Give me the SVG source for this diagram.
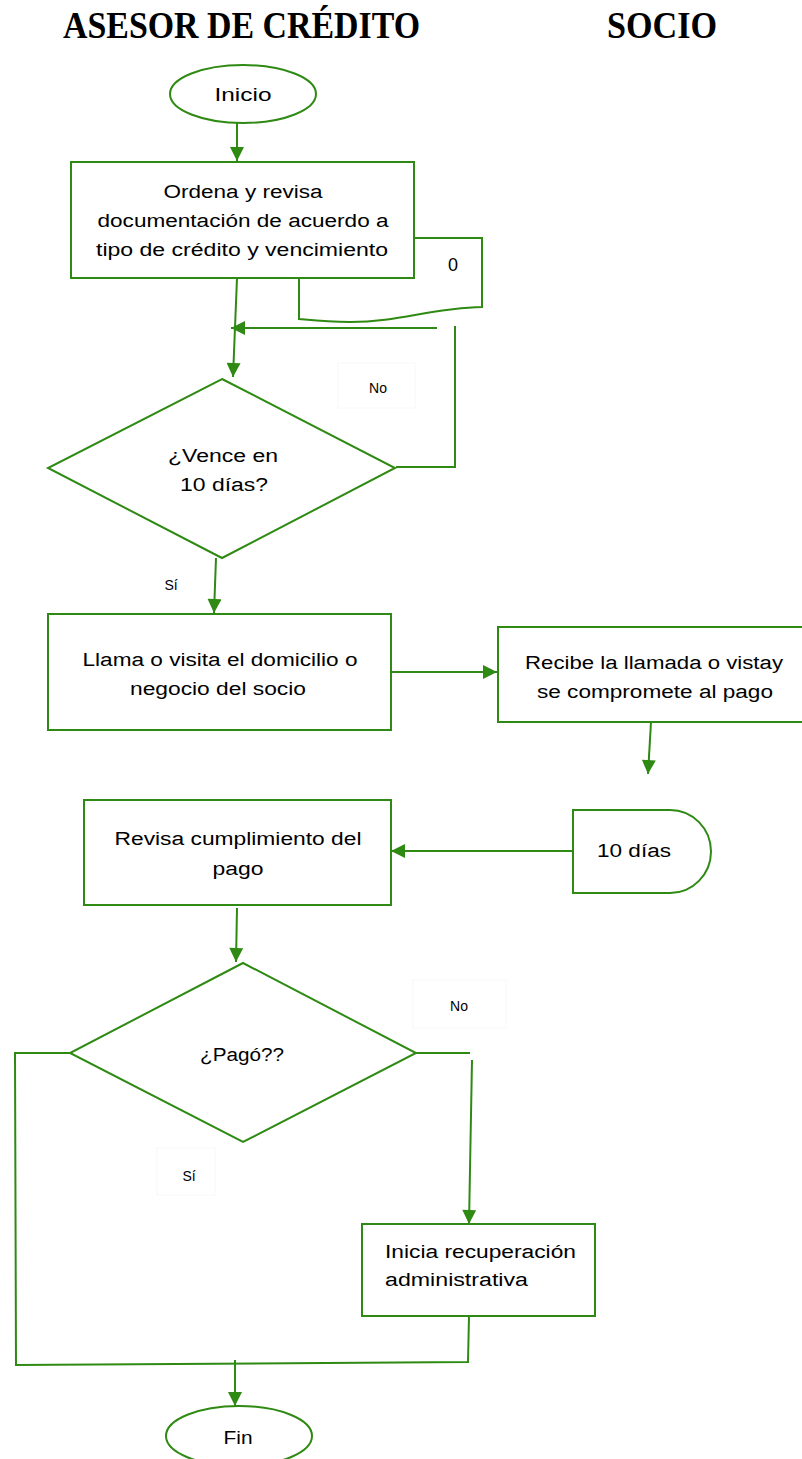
<svg xmlns="http://www.w3.org/2000/svg" width="802" height="1459" viewBox="0 0 802 1459">
<defs>
<marker id="ah" viewBox="0 0 10 10" refX="10" refY="5" markerWidth="15" markerHeight="14" markerUnits="userSpaceOnUse" orient="auto">
<path d="M0,0 L10,5 L0,10 Z" fill="#2e8a12"/>
</marker>
<style>
.s{fill:#fff;stroke:#2e8a12;stroke-width:2}
.c{fill:none;stroke:#2e8a12;stroke-width:2}
.t{font-family:"Liberation Sans","Open Sans",sans-serif;font-size:18px;fill:#000;text-anchor:middle}
.l{font-family:"Liberation Sans","Open Sans",sans-serif;font-size:14px;fill:#000;text-anchor:middle}
.h{font-family:"Liberation Serif","Times New Roman",serif;font-weight:bold;font-size:38px;fill:#000}
.lb{fill:#fff;stroke:#f8f8f8;stroke-width:1}
</style>
</defs>
<rect width="802" height="1459" fill="#fff"/>
<g id="headers">
<text class="h" x="63" y="38" textLength="357" lengthAdjust="spacingAndGlyphs">ASESOR DE CRÉDITO</text>
<text class="h" x="607" y="38" textLength="110" lengthAdjust="spacingAndGlyphs">SOCIO</text>
</g>
<g id="connectors">
<path class="c" d="M237,123 L237,161" marker-end="url(#ah)"/>
<path class="c" d="M237,278 L233,377" marker-end="url(#ah)"/>
<path class="c" d="M437,328 L231,328" marker-end="url(#ah)"/>
<path class="c" d="M396,467 L455,467 L455,326"/>
<path class="c" d="M216,558 L214,613" marker-end="url(#ah)"/>
<path class="c" d="M391,672 L497,672" marker-end="url(#ah)"/>
<path class="c" d="M651,722 L648,774" marker-end="url(#ah)"/>
<path class="c" d="M573,851 L391,851" marker-end="url(#ah)"/>
<path class="c" d="M237,908 L236,962" marker-end="url(#ah)"/>
<path class="c" d="M70,1053 L15,1053 L16,1365 L468,1362 L469,1316"/>
<path class="c" d="M416,1053 L470,1053"/>
<path class="c" d="M472,1060 L469,1224" marker-end="url(#ah)"/>
<path class="c" d="M235,1360 L235,1406" marker-end="url(#ah)"/>
</g>
<g id="labels">
<rect class="lb" x="338" y="363" width="77" height="45"/>
<text class="l" x="378" y="393">No</text>
<text class="l" x="171" y="590">Sí</text>
<rect class="lb" x="413" y="980" width="93" height="48"/>
<text class="l" x="459" y="1011">No</text>
<rect class="lb" x="157" y="1148" width="58" height="47"/>
<text class="l" x="189" y="1181">Sí</text>
</g>
<g id="documento">
<path class="s" d="M414,238 L482,238 L482,307 C430,308 400,322 350,322 C325,322 310,320 299,319 L299,278"/>
<text class="t" x="453" y="271">0</text>
</g>
<g id="inicio">
<ellipse class="s" cx="243" cy="94" rx="73" ry="29"/>
<text class="t" x="243" y="101" textLength="57" lengthAdjust="spacingAndGlyphs">Inicio</text>
</g>
<g id="ordena">
<rect class="s" x="71" y="162" width="343" height="116"/>
<text class="t" x="243" y="198" textLength="159" lengthAdjust="spacingAndGlyphs">Ordena y revisa</text>
<text class="t" x="243" y="227" textLength="291" lengthAdjust="spacingAndGlyphs">documentación de acuerdo a</text>
<text class="t" x="242" y="256" textLength="292" lengthAdjust="spacingAndGlyphs">tipo de crédito y vencimiento</text>
</g>
<g id="vence">
<polygon class="s" points="222,379 395,468 222,558 48,468"/>
<text class="t" x="223" y="462" textLength="110" lengthAdjust="spacingAndGlyphs">¿Vence en</text>
<text class="t" x="224" y="491" textLength="88" lengthAdjust="spacingAndGlyphs">10 días?</text>
</g>
<g id="llama">
<rect class="s" x="48" y="614" width="343" height="116"/>
<text class="t" x="220" y="666" textLength="275" lengthAdjust="spacingAndGlyphs">Llama o visita el domicilio o</text>
<text class="t" x="218" y="695" textLength="176" lengthAdjust="spacingAndGlyphs">negocio del socio</text>
</g>
<g id="recibe">
<rect class="s" x="498" y="627" width="310" height="95"/>
<text class="t" x="654" y="669" textLength="258" lengthAdjust="spacingAndGlyphs">Recibe la llamada o vistay</text>
<text class="t" x="655" y="698" textLength="236" lengthAdjust="spacingAndGlyphs">se compromete al pago</text>
</g>
<g id="espera">
<path class="s" d="M573,810 L670,810 A41,41.5 0 0 1 670,893 L573,893 Z"/>
<text class="t" x="634" y="857" textLength="74" lengthAdjust="spacingAndGlyphs">10 días</text>
</g>
<g id="revisa">
<rect class="s" x="84" y="800" width="307" height="105"/>
<text class="t" x="238" y="845" textLength="247" lengthAdjust="spacingAndGlyphs">Revisa cumplimiento del</text>
<text class="t" x="238" y="875" textLength="51" lengthAdjust="spacingAndGlyphs">pago</text>
</g>
<g id="pago">
<polygon class="s" points="243,963 416,1053 243,1142 70,1053"/>
<text class="t" x="242" y="1061" textLength="84" lengthAdjust="spacingAndGlyphs">¿Pagó??</text>
</g>
<g id="recuperacion">
<rect class="s" x="362" y="1224" width="233" height="92"/>
<text class="t" x="385" y="1258" style="text-anchor:start" textLength="191" lengthAdjust="spacingAndGlyphs">Inicia recuperación</text>
<text class="t" x="385" y="1286" style="text-anchor:start" textLength="143" lengthAdjust="spacingAndGlyphs">administrativa</text>
</g>
<g id="fin">
<ellipse class="s" cx="239" cy="1436" rx="73" ry="30"/>
<text class="t" x="238" y="1444" textLength="29" lengthAdjust="spacingAndGlyphs">Fin</text>
</g>
</svg>
